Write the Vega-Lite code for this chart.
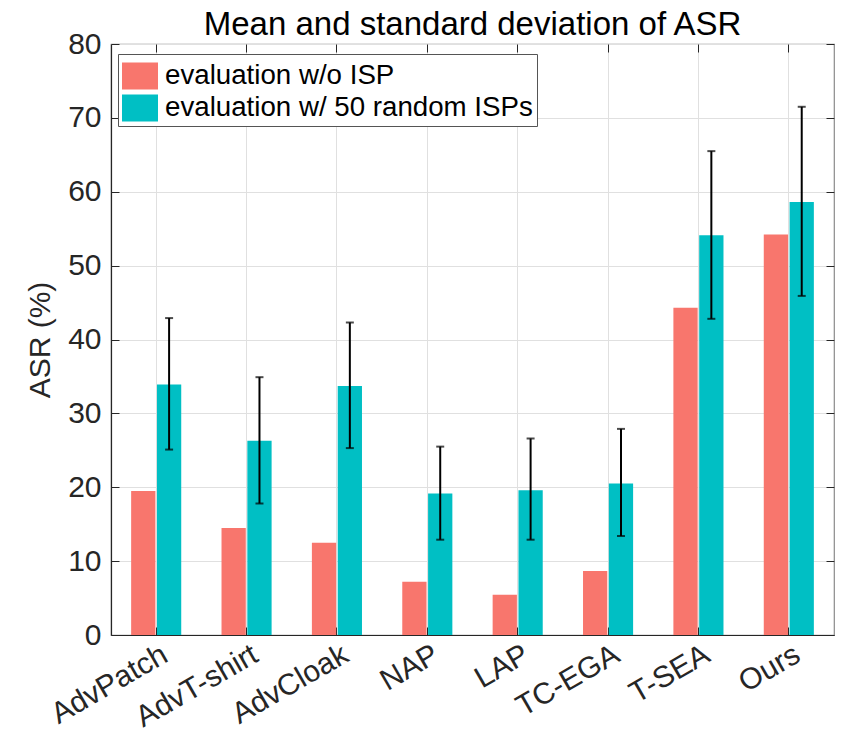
{
  "$schema": "https://vega.github.io/schema/vega-lite/v6.json",
  "width": 723,
  "height": 591,
  "autosize": "none",
  "padding": {"left": 111, "top": 44, "right": 7, "bottom": 106},
  "background": "white",
  "config": {
    "font": "Liberation Sans",
    "view": {"stroke": "#8a8a8a", "strokeWidth": 1.2},
    "axis": {"gridColor": "#e0e0e0", "gridWidth": 1, "domainColor": "#262626", "domainWidth": 1.2, "tickColor": "#262626", "labelColor": "#262626", "titleColor": "#262626", "labelFont": "Liberation Sans", "titleFont": "Liberation Sans"}
  },
  "title": {"text": "Mean and standard deviation of ASR", "fontSize": 33, "fontWeight": "normal", "color": "#000000", "font": "Liberation Sans", "offset": -13, "anchor": "middle"},
  "data": {"values": [
    {"method": "AdvPatch", "series": "evaluation w/o ISP", "asr": 19.5},
    {"method": "AdvPatch", "series": "evaluation w/ 50 random ISPs", "asr": 33.9, "lo": 25.1, "hi": 42.9},
    {"method": "AdvT-shirt", "series": "evaluation w/o ISP", "asr": 14.5},
    {"method": "AdvT-shirt", "series": "evaluation w/ 50 random ISPs", "asr": 26.3, "lo": 17.8, "hi": 34.9},
    {"method": "AdvCloak", "series": "evaluation w/o ISP", "asr": 12.5},
    {"method": "AdvCloak", "series": "evaluation w/ 50 random ISPs", "asr": 33.7, "lo": 25.3, "hi": 42.3},
    {"method": "NAP", "series": "evaluation w/o ISP", "asr": 7.2},
    {"method": "NAP", "series": "evaluation w/ 50 random ISPs", "asr": 19.15, "lo": 12.9, "hi": 25.5},
    {"method": "LAP", "series": "evaluation w/o ISP", "asr": 5.45},
    {"method": "LAP", "series": "evaluation w/ 50 random ISPs", "asr": 19.6, "lo": 12.9, "hi": 26.6},
    {"method": "TC-EGA", "series": "evaluation w/o ISP", "asr": 8.65},
    {"method": "TC-EGA", "series": "evaluation w/ 50 random ISPs", "asr": 20.5, "lo": 13.4, "hi": 27.9},
    {"method": "T-SEA", "series": "evaluation w/o ISP", "asr": 44.3},
    {"method": "T-SEA", "series": "evaluation w/ 50 random ISPs", "asr": 54.1, "lo": 42.8, "hi": 65.5},
    {"method": "Ours", "series": "evaluation w/o ISP", "asr": 54.2},
    {"method": "Ours", "series": "evaluation w/ 50 random ISPs", "asr": 58.6, "lo": 45.9, "hi": 71.5}
  ]},
  "resolve": {"axis": {"x": "independent", "y": "independent"}},
  "layer": [
    {
      "mark": {"type": "bar"},
      "encoding": {
        "x": {"field": "method", "type": "nominal", "sort": null,
              "scale": {"paddingInner": 0, "paddingOuter": 0},
              "axis": {"title": null, "orient": "bottom", "labelAngle": -30, "labelFontSize": 30, "labelAlign": "right", "labelBaseline": "middle", "labelPadding": 25, "labelOffset": 9, "tickSize": -8, "ticks": true, "grid": true, "domain": true}},
        "xOffset": {"field": "series", "type": "nominal", "sort": ["evaluation w/o ISP", "evaluation w/ 50 random ISPs"],
                    "scale": {"paddingInner": 0.06, "paddingOuter": 0.78}},
        "y": {"field": "asr", "type": "quantitative",
              "scale": {"domain": [0, 80], "nice": false},
              "axis": {"title": "ASR (%)", "orient": "left", "values": [0, 10, 20, 30, 40, 50, 60, 70, 80], "labelFontSize": 30, "titleFontSize": 30, "titleFontWeight": "normal", "labelPadding": 18, "tickSize": -8, "grid": true, "titlePadding": 12}},
        "color": {"field": "series", "type": "nominal", "sort": ["evaluation w/o ISP", "evaluation w/ 50 random ISPs"],
                  "scale": {"range": ["#F8766D", "#00BFC4"]},
                  "legend": {"title": null, "orient": "none", "legendX": 7, "legendY": 10, "direction": "vertical",
                             "symbolType": "M-1,-0.75L1,-0.75L1,0.75L-1,0.75Z", "symbolSize": 1296, "symbolStrokeWidth": 0,
                             "labelFontSize": 27.7, "labelColor": "#000000", "labelLimit": 500, "labelOffset": 7, "rowPadding": 0,
                             "padding": 4, "strokeColor": "#555555", "fillColor": "white"}}
      }
    },
    {
      "transform": [{"filter": "isValid(datum.lo)"}],
      "mark": {"type": "rule", "color": "#000000", "strokeWidth": 2},
      "encoding": {
        "x": {"field": "method", "type": "nominal", "sort": null,
              "axis": {"orient": "top", "title": null, "labels": false, "tickSize": -8, "grid": false, "domain": false}},
        "xOffset": {"field": "series", "type": "nominal", "sort": ["evaluation w/o ISP", "evaluation w/ 50 random ISPs"]},
        "y": {"field": "lo", "type": "quantitative",
              "axis": {"orient": "right", "title": null, "labels": false, "values": [0, 10, 20, 30, 40, 50, 60, 70, 80], "tickSize": -8, "grid": false, "domain": false}},
        "y2": {"field": "hi"}
      }
    },
    {
      "transform": [{"filter": "isValid(datum.lo)"}],
      "mark": {"type": "tick", "color": "#000000", "thickness": 2, "size": 8},
      "encoding": {
        "x": {"field": "method", "type": "nominal", "sort": null, "axis": null},
        "xOffset": {"field": "series", "type": "nominal", "sort": ["evaluation w/o ISP", "evaluation w/ 50 random ISPs"]},
        "y": {"field": "lo", "type": "quantitative", "axis": null}
      }
    },
    {
      "transform": [{"filter": "isValid(datum.hi)"}],
      "mark": {"type": "tick", "color": "#000000", "thickness": 2, "size": 8},
      "encoding": {
        "x": {"field": "method", "type": "nominal", "sort": null, "axis": null},
        "xOffset": {"field": "series", "type": "nominal", "sort": ["evaluation w/o ISP", "evaluation w/ 50 random ISPs"]},
        "y": {"field": "hi", "type": "quantitative", "axis": null}
      }
    }
  ]
}
